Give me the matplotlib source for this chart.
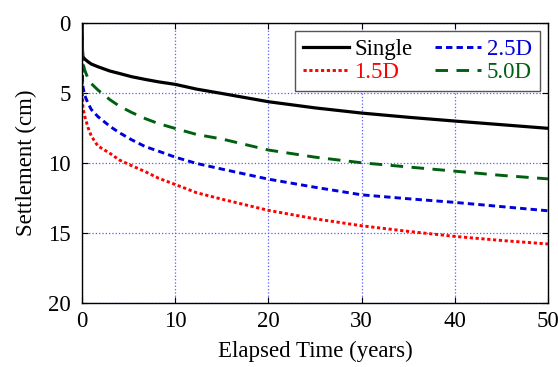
import matplotlib
matplotlib.use("Agg")
import matplotlib.pyplot as plt

# Valores (tempo em anos, recalque em cm)
time_years = [0, 0.05, 0.1, 0.3, 0.65, 1.0, 1.7, 3.0, 4.0, 5.3, 6.8, 8.2,
              10, 12.3, 15, 20, 25, 30, 35, 40, 45, 50]
single = [0, 2.0, 2.43, 2.6, 2.79, 2.95, 3.14, 3.45, 3.62, 3.85, 4.05, 4.22,
          4.4, 4.74, 5.05, 5.64, 6.08, 6.45, 6.75, 7.02, 7.28, 7.54]
d15 = [0, 5.0, 6.1, 6.7, 7.5, 8.1, 8.8, 9.33, 9.8, 10.2, 10.64, 11.1,
       11.55, 12.14, 12.6, 13.4, 14.0, 14.5, 14.9, 15.26, 15.55, 15.8]
d25 = [0, 4.0, 4.6, 5.2, 5.76, 6.2, 6.7, 7.4, 7.85, 8.35, 8.85, 9.17,
       9.6, 10.05, 10.45, 11.17, 11.75, 12.29, 12.57, 12.83, 13.13, 13.43]
d50 = [0, 2.5, 2.9, 3.4, 4.0, 4.35, 4.8, 5.5, 5.95, 6.4, 6.85, 7.2,
       7.55, 7.98, 8.3, 9.09, 9.6, 10.0, 10.3, 10.6, 10.9, 11.15]

plt.rcParams['font.family'] = ['Liberation Serif', 'DejaVu Serif']
plt.rcParams['font.size'] = 16.5

fig = plt.figure(figsize=(5.58, 3.67), dpi=100)
ax = fig.add_axes([0.147, 0.175, 0.835, 0.763])

ax.plot(time_years, single, color='black', lw=2.3, label='Single')
ax.plot(time_years, d15, color='red', lw=2.1, dashes=(1.1, 0.9), label='1.5D')
ax.plot(time_years, d25, color='#0000dd', lw=2.1, dashes=(2.2, 1.4), label='2.5D')
ax.plot(time_years, d50, color='#006010', lw=2.1, dashes=(4.3, 2.9), label='5.0D')

ax.set_xlim(0, 50)
ax.set_ylim(20, 0)
ax.set_xticks([0, 10, 20, 30, 40, 50])
ax.set_yticks([0, 5, 10, 15, 20])
ax.grid(True, color='#5a5aff', linestyle=':', lw=0.9)
ax.tick_params(direction='in', length=4, top=True, right=True)
ax.tick_params(axis='x', pad=6)
ax.tick_params(axis='y', pad=8)
for s in ax.spines.values():
    s.set_linewidth(1.0)

ax.set_xlabel('Elapsed Time (years)', labelpad=6)
ax.set_ylabel('Settlement (cm)', labelpad=8)

leg = ax.legend(ncol=2, loc='upper right', bbox_to_anchor=(0.983, 0.971),
                fancybox=False, edgecolor='#555555', framealpha=1,
                borderaxespad=0, handlelength=2.0, handletextpad=0.25,
                columnspacing=1.0, labelspacing=0.1, borderpad=0.35)
leg.get_frame().set_linewidth(1.0)
for txt, c in zip(leg.get_texts(), ['black', 'red', '#0000dd', '#006010']):
    txt.set_color(c)

fig.savefig('out.png', dpi=100)
